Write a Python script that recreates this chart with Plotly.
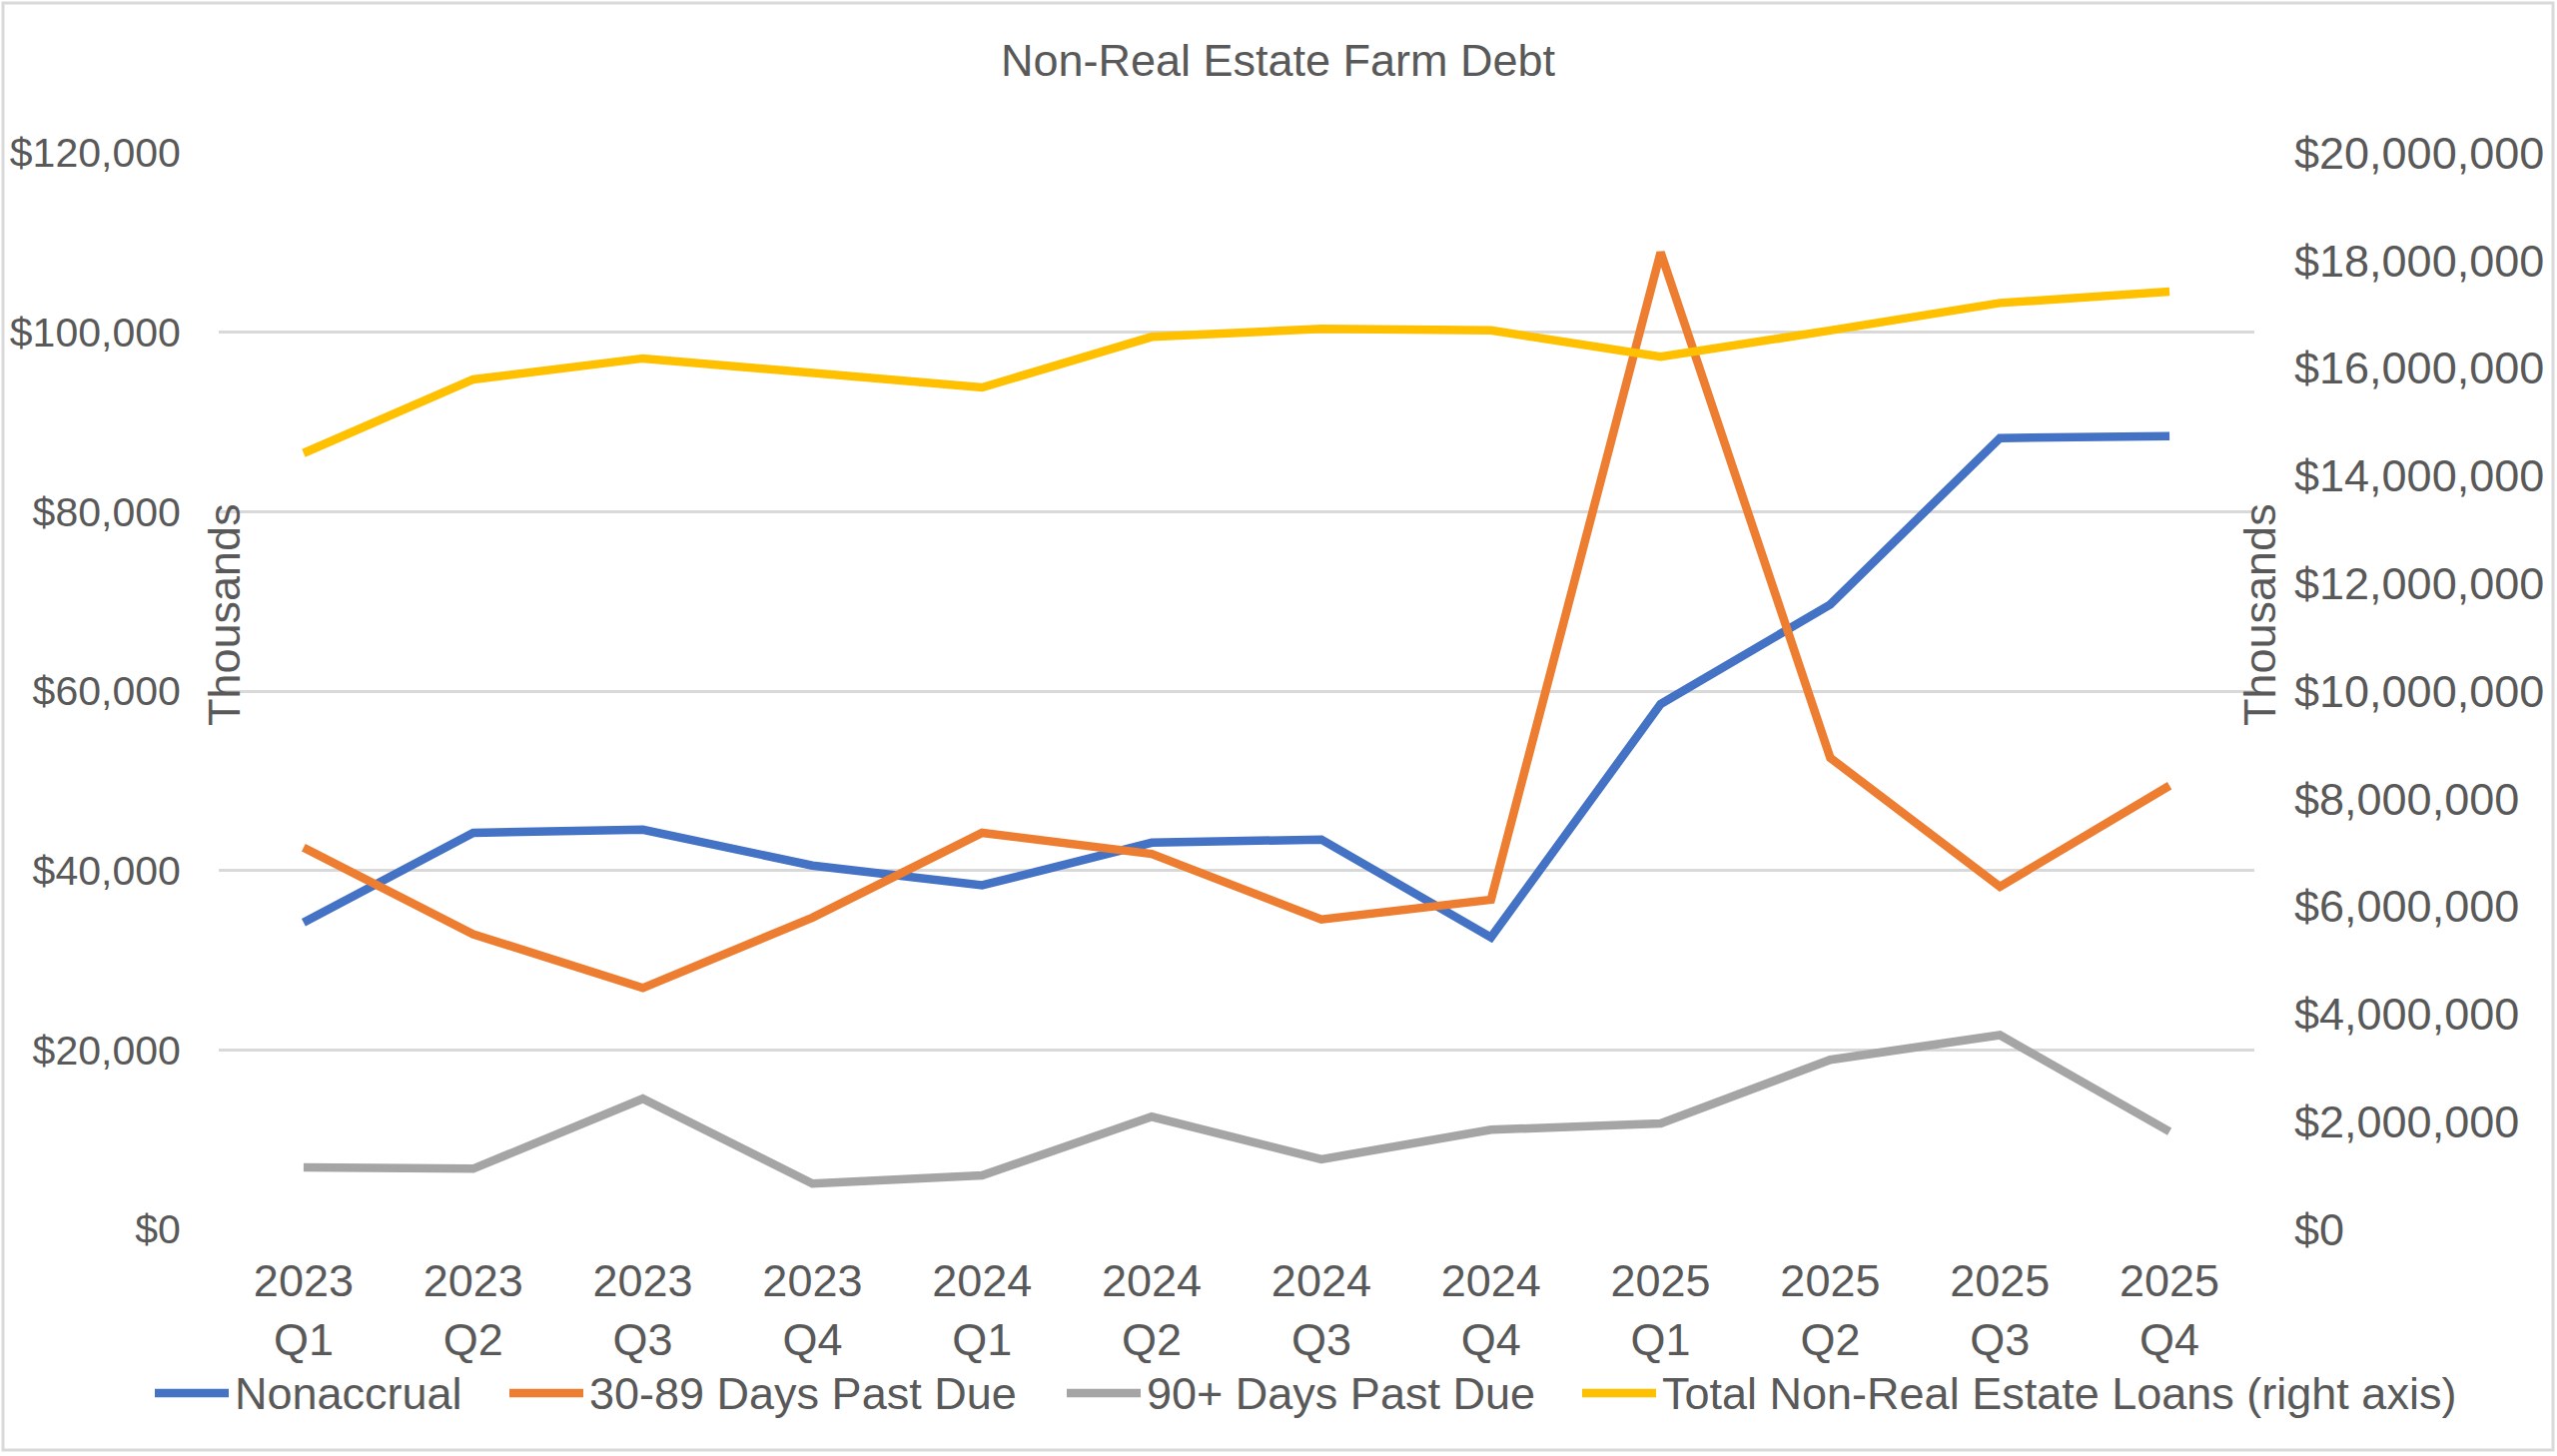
import plotly.graph_objects as go

# ---- data ----
quarters = ["2023<br>Q1", "2023<br>Q2", "2023<br>Q3", "2023<br>Q4",
            "2024<br>Q1", "2024<br>Q2", "2024<br>Q3", "2024<br>Q4",
            "2025<br>Q1", "2025<br>Q2", "2025<br>Q3", "2025<br>Q4"]

nonaccrual = [34200, 44200, 44550, 40550, 38350, 43100, 43450, 32550,
              58550, 69650, 88200, 88400]
past_due_30_89 = [42550, 32900, 26900, 34750, 44200, 41850, 34550, 36750,
                  108900, 52550, 38200, 49450]
past_due_90 = [6900, 6750, 14550, 5100, 6000, 12550, 7800, 11100,
               11800, 18900, 21650, 10900]
total_loans = [14420000, 15790000, 16180000, 15910000, 15640000, 16580000,
               16730000, 16700000, 16210000, 16700000, 17210000, 17420000]

series_names = ["Nonaccrual", "30-89 Days Past Due", "90+ Days Past Due",
                "Total Non-Real Estate Loans (right axis)"]
series_colors = ["#4472C4", "#ED7D31", "#A5A5A5", "#FFC000"]

left_ticks = [0, 20000, 40000, 60000, 80000, 100000, 120000]
right_ticks = [0, 2000000, 4000000, 6000000, 8000000, 10000000,
               12000000, 14000000, 16000000, 18000000, 20000000]

FONT = "Liberation Sans, Arial, sans-serif"
GREY = "#595959"
W, H = 2560, 1458
L, R, T, B = 219, 303, 153, 227
pw, ph = W - L - R, H - T - B


def px_x(p):
    return (p - L) / pw


def px_y(p):
    return 1 - (p - T) / ph


fig = go.Figure()
all_vals = [nonaccrual, past_due_30_89, past_due_90, total_loans]
axes = ["y", "y", "y", "y2"]
for name, vals, clr, ax in zip(series_names, all_vals, series_colors, axes):
    fig.add_trace(go.Scatter(
        x=quarters, y=vals, name=name, yaxis=ax,
        mode="lines", line=dict(color=clr, width=8.5),
        showlegend=False,
    ))

fig.update_layout(
    width=W, height=H,
    paper_bgcolor="white", plot_bgcolor="white",
    margin=dict(l=L, r=R, t=T, b=B),
    font=dict(family=FONT, size=45, color=GREY),
    title=dict(text="Non-Real Estate Farm Debt", x=1279.5 / W,
               xanchor="center", y=1 - 60 / H, yanchor="middle",
               font=dict(size=45, color=GREY)),
    xaxis=dict(type="category", range=[-0.5, 11.5], showgrid=False,
               showline=False, zeroline=False, automargin=False,
               ticks="outside", ticklen=12, tickcolor="rgba(0,0,0,0)",
               tickfont=dict(size=45, color=GREY)),
    yaxis=dict(range=[0, 120000], tickvals=left_ticks,
               ticktext=[f"${v:,}" for v in left_ticks],
               showgrid=True, gridcolor="#D9D9D9", gridwidth=2.5,
               zeroline=False, showline=False, automargin=False,
               ticks="outside", ticklen=29, tickcolor="rgba(0,0,0,0)",
               tickfont=dict(size=41, color=GREY)),
    yaxis2=dict(range=[0, 20000000], tickvals=right_ticks,
                ticktext=[f"${v:,}" for v in right_ticks],
                overlaying="y", side="right", showgrid=False,
                zeroline=False, showline=False, automargin=False,
                ticks="outside", ticklen=30, tickcolor="rgba(0,0,0,0)",
                tickfont=dict(size=45, color=GREY)),
    showlegend=False,
)

# axis titles sit on the plot edge, as in the original
for xpix in (224, 2262):
    fig.add_annotation(text="Thousands", textangle=-90, showarrow=False,
                       xref="paper", yref="paper",
                       x=px_x(xpix), y=px_y(616),
                       xanchor="center", yanchor="middle",
                       font=dict(size=45, color=GREY))

# legend drawn by hand (Excel-style long line keys)
legend_y = 1395
legend_line_x = [155, 510, 1068, 1584]
for name, clr, x0 in zip(series_names, series_colors, legend_line_x):
    fig.add_shape(type="line", xref="paper", yref="paper",
                  x0=px_x(x0), x1=px_x(x0 + 74),
                  y0=px_y(legend_y), y1=px_y(legend_y),
                  line=dict(color=clr, width=8.5))
    fig.add_annotation(text=name, showarrow=False,
                       xref="paper", yref="paper",
                       x=px_x(x0 + 78), y=px_y(legend_y),
                       xanchor="left", yanchor="middle",
                       font=dict(size=45, color=GREY))

# light frame around the whole chart
fig.add_shape(type="rect", xref="paper", yref="paper",
              x0=px_x(3), x1=px_x(W - 4),
              y0=px_y(H - 6), y1=px_y(3),
              line=dict(color="#D9D9D9", width=3), layer="below")

fig.write_html(
    "out.html",
    config={"displayModeBar": False},
    post_script="document.body.style.margin='0px';"
                "document.body.style.overflow='hidden';",
)
